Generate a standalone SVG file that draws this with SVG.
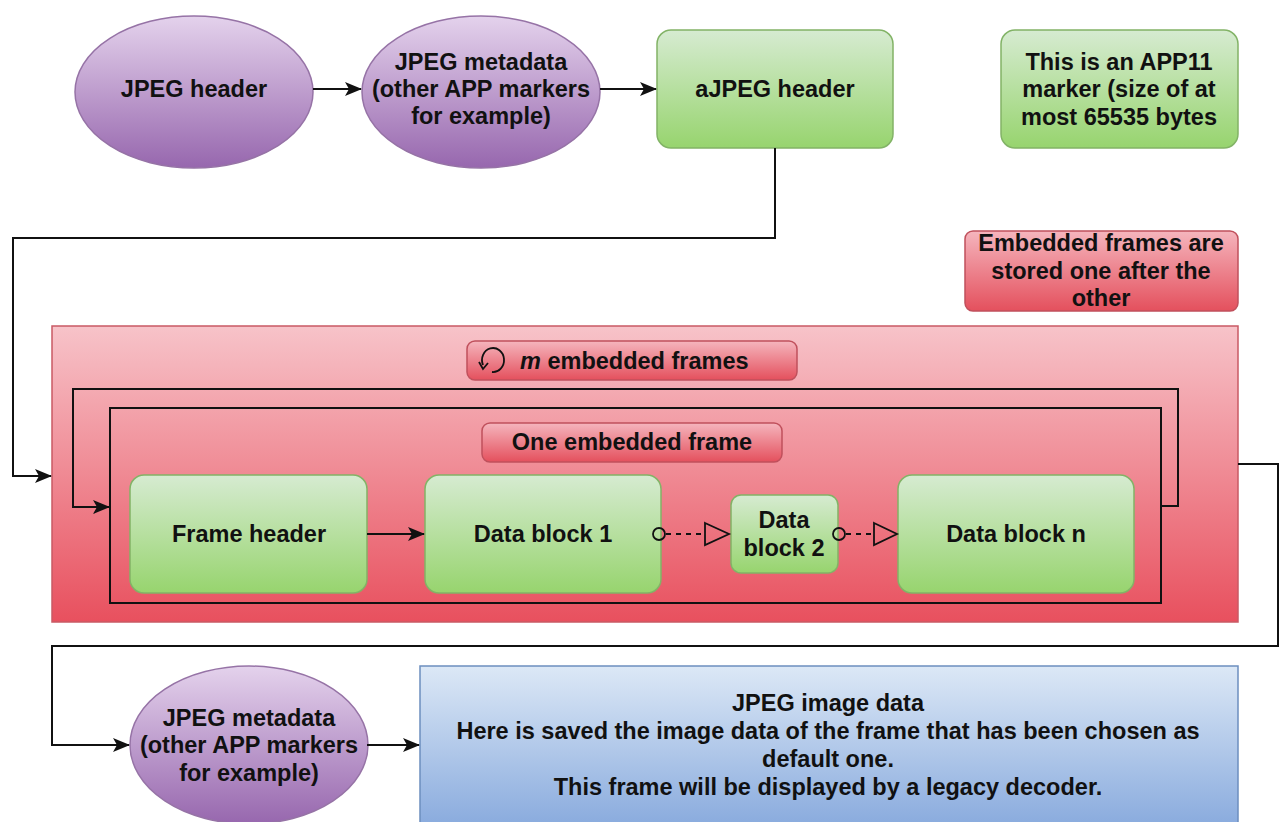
<svg xmlns="http://www.w3.org/2000/svg" width="1281" height="822" viewBox="0 0 1281 822">
<style>
text{font-family:"Liberation Sans",Arial,sans-serif;font-weight:bold;font-size:23.5px;fill:#111;text-anchor:middle}
.purple{fill:url(#gP);stroke:#9673a6;stroke-width:1.5}
.green{fill:url(#gG);stroke:#82b366;stroke-width:1.5}
.redl{fill:url(#gRL);stroke:#c0505c;stroke-width:1.5}
.blue{fill:url(#gB);stroke:#6c8ebf;stroke-width:1.5}
.ln{fill:none;stroke:#111;stroke-width:2}
.dash{fill:none;stroke:#111;stroke-width:1.8;stroke-dasharray:5 5}
.open{fill:none;stroke:#111;stroke-width:1.8}
</style>
<defs>
<linearGradient id="gP" x1="0" y1="0" x2="0" y2="1"><stop offset="0" stop-color="#e4d2ec"/><stop offset="1" stop-color="#9767ae"/></linearGradient>
<linearGradient id="gG" x1="0" y1="0" x2="0" y2="1"><stop offset="0" stop-color="#d6ebd1"/><stop offset="1" stop-color="#97d46e"/></linearGradient>
<linearGradient id="gR" x1="0" y1="0" x2="0" y2="1"><stop offset="0" stop-color="#f7c3c9"/><stop offset="1" stop-color="#e8505e"/></linearGradient>
<linearGradient id="gRL" x1="0" y1="0" x2="0" y2="1"><stop offset="0" stop-color="#f5b5bd"/><stop offset="1" stop-color="#e4505d"/></linearGradient>
<linearGradient id="gB" x1="0" y1="0" x2="0" y2="1"><stop offset="0" stop-color="#dce8f6"/><stop offset="1" stop-color="#84a7dc"/></linearGradient>
<marker id="arr" viewBox="0 0 17 14" refX="16" refY="7" markerWidth="17" markerHeight="14" markerUnits="userSpaceOnUse" orient="auto">
<path d="M0,0 L17,7 L0,14 L4,7 z" fill="#111"/></marker>
</defs>

<g id="container">
<rect x="52" y="326" width="1186" height="296" fill="url(#gR)" stroke="#c95a64" stroke-width="1.5"/>
</g>

<g id="jpeg-header">
<ellipse class="purple" cx="194" cy="92" rx="119" ry="76"/>
<text x="194" y="97">JPEG header</text>
</g>
<g id="jpeg-metadata-top">
<ellipse class="purple" cx="481" cy="92" rx="119" ry="76"/>
<text x="481" y="70">JPEG metadata</text>
<text x="481" y="97">(other APP markers</text>
<text x="481" y="124">for example)</text>
</g>
<g id="ajpeg-header">
<rect class="green" x="657" y="30" width="236" height="118" rx="14"/>
<text x="775" y="97">aJPEG header</text>
</g>
<g id="app11-note">
<rect class="green" x="1001" y="30" width="237" height="118" rx="14"/>
<text x="1119" y="70">This is an APP11</text>
<text x="1119" y="97">marker (size of at</text>
<text x="1119" y="125">most 65535 bytes</text>
</g>
<g id="embedded-note">
<rect class="redl" x="965" y="231" width="273" height="80" rx="8"/>
<text x="1101" y="251">Embedded frames are</text>
<text x="1101" y="279">stored one after the</text>
<text x="1101" y="306">other</text>
</g>
<g id="m-frames-label">
<rect class="redl" x="467" y="341" width="330" height="39" rx="8"/>
<path d="M483,365 A11,12 0 1 1 492,372" fill="none" stroke="#111" stroke-width="1.8"/>
<path d="M479,362 L483,369 L488,363" fill="none" stroke="#111" stroke-width="1.8"/>
<text x="520" y="369" style="text-anchor:start"><tspan font-style="italic">m</tspan> embedded frames</text>
</g>
<g id="one-frame-label">
<rect class="redl" x="482" y="423" width="300" height="39" rx="8"/>
<text x="632" y="450">One embedded frame</text>
</g>
<g id="frame-header">
<rect class="green" x="130" y="475" width="237" height="118" rx="14"/>
<text x="249" y="542">Frame header</text>
</g>
<g id="data-block-1">
<rect class="green" x="425" y="475" width="236" height="118" rx="14"/>
<text x="543" y="542">Data block 1</text>
</g>
<g id="data-block-2">
<rect class="green" x="731" y="495" width="107" height="78" rx="10"/>
<text x="784" y="528">Data</text>
<text x="784" y="556">block 2</text>
</g>
<g id="data-block-n">
<rect class="green" x="898" y="475" width="236" height="118" rx="14"/>
<text x="1016" y="542">Data block n</text>
</g>
<g id="jpeg-metadata-bottom">
<ellipse class="purple" cx="249" cy="745" rx="119" ry="79"/>
<text x="249" y="726">JPEG metadata</text>
<text x="249" y="753">(other APP markers</text>
<text x="249" y="781">for example)</text>
</g>
<g id="jpeg-image-data">
<rect class="blue" x="420" y="666" width="818" height="170"/>
<text x="828" y="711">JPEG image data</text>
<text x="828" y="739">Here is saved the image data of the frame that has been chosen as</text>
<text x="828" y="767">default one.</text>
<text x="828" y="795">This frame will be displayed by a legacy decoder.</text>
</g>

<g id="connectors">
<path class="ln" d="M313,89 L361,89" marker-end="url(#arr)"/>
<path class="ln" d="M600,89 L656,89" marker-end="url(#arr)"/>
<path class="ln" d="M775,148 L775,238 L13,238 L13,476 L51,476" marker-end="url(#arr)"/>
<path class="ln" d="M1161,506 L1178,506 L1178,389 L73,389 L73,507 L109,507" marker-end="url(#arr)"/>
<path class="ln" d="M110,408 L1161,408 L1161,603 L110,603 Z"/>
<path class="ln" d="M367,534 L424,534" marker-end="url(#arr)"/>
<circle class="open" cx="659" cy="534" r="6"/>
<path class="dash" d="M666,534 L705,534"/>
<path class="open" d="M705,523 L729,534 L705,545 Z"/>
<circle class="open" cx="839" cy="534" r="6"/>
<path class="dash" d="M846,534 L874,534"/>
<path class="open" d="M874,523 L897,534 L874,545 Z"/>
<path class="ln" d="M1238,464 L1278,464 L1278,646 L52,646 L52,745 L129,745" marker-end="url(#arr)"/>
<path class="ln" d="M367,745 L419,745" marker-end="url(#arr)"/>
</g>
</svg>
